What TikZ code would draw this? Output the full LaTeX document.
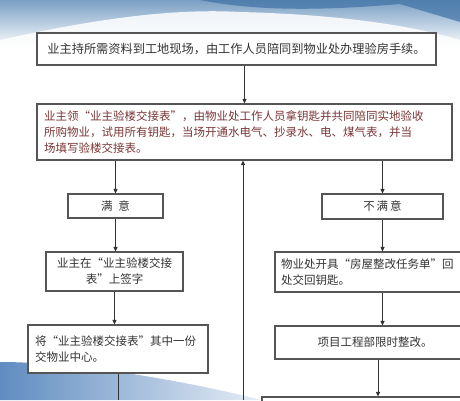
\documentclass[tikz,border=0pt]{standalone}
\usepackage{fontspec}
\setmainfont{Noto Sans CJK SC}
\usetikzlibrary{arrows.meta, positioning, calc}

\definecolor{sky}{HTML}{7A9FC4}
\definecolor{skydark}{HTML}{3F72A6}
\definecolor{swoosh}{HTML}{5F8CC0}
\definecolor{boxline}{HTML}{555555}
\definecolor{redtext}{HTML}{7A3636}
\definecolor{ink}{HTML}{333333}

\begin{document}
\begin{tikzpicture}[
  x=1pt, y=-1pt,
  box/.style={draw=boxline, line width=1.1pt, fill=white, text=ink,
              inner sep=0pt, font=\fontsize{11.5}{16}\selectfont},
  flow/.style={draw=ink, line width=0.9pt,
               -{Triangle[length=4.5pt, width=4pt]}}
]
  \useasboundingbox (0,0) rectangle (460,400);
  \clip (0,0) rectangle (460,400);

  % Sky at the top
  \shade[top color=sky, bottom color=white] (0,0) rectangle (460,48);
  \fill[skydark, opacity=0.7] (200,0) .. controls (260,12) and (330,10) .. (400,4)
    -- (460,22) -- (460,0) -- cycle;
  \fill[white, opacity=0.85] (0,40) .. controls (90,20) and (170,8) .. (240,12)
    .. controls (320,14) and (400,22) .. (460,40) -- (460,60) -- (0,60) -- cycle;

  % Swoosh at the bottom left
  \shade[left color=swoosh, right color=swoosh!15] (0,362)
    .. controls (80,362) and (190,382) .. (262,400) -- (0,400) -- cycle;

  % Boxes
  \node[box, font=\fontsize{12.2}{16}\selectfont, minimum width=399pt,
        minimum height=32pt] (start) at (236.5,49)
    {业主持所需资料到工地现场，由工作人员陪同到物业处办理验房手续。};
  \node[box, text=redtext, text width=401pt, align=left, inner xsep=7pt,
        minimum height=56pt] (check) at (244.5,132)
    {业主领“业主验楼交接表”，由物业处工作人员拿钥匙并共同陪同实地验收\\
     所购物业，试用所有钥匙，当场开通水电气、抄录水、电、煤气表，并当\\
     场填写验楼交接表。};
  \node[box, minimum width=95pt, minimum height=24pt] (ok) at (115.5,206)
    {满\enspace 意};
  \node[box, minimum width=121pt, minimum height=25pt] (notok) at (382.5,206.5)
    {不\,满\,意};
  \node[box, minimum width=137pt, minimum height=39pt, align=center] (sign)
    at (114.5,271.5) {业主在“业主验楼交接\\表”上签字};
  \node[box, text width=188pt, align=left, inner xsep=6pt,
        minimum height=40pt] (notice) at (375,272)
    {物业处开具“房屋整改任务单”回\\处交回钥匙。};
  \node[box, text width=166pt, align=left, inner xsep=7pt,
        minimum height=48pt] (handover) at (118,349)
    {将“业主验楼交接表”其中一份\\交物业中心。};
  \node[box, minimum width=200pt, minimum height=33pt] (rectify) at (375,342.5)
    {项目工程部限时整改。};
  \node[box, minimum width=220pt, minimum height=30pt] (next) at (372,412) {};

  % Free ends at the bottom edge
  \coordinate (back) at (243,400);
  \coordinate (down) at (118,400);

  % Connectors
  \draw[flow] (start.south -| check) -- (check.north);
  \draw[flow] (check.south -| ok) -- (ok.north);
  \draw[flow] (check.south -| notok) -- (notok.north);
  \draw[flow] (ok.south) -- (ok.south |- sign.north);
  \draw[flow] (sign.south) -- (sign.south |- handover.north);
  \draw[flow] (notok.south) -- (notok.south |- notice.north);
  \draw[flow] (notok.south |- notice.south) -- (notok.south |- rectify.north);
  \draw[flow] ($(rectify.south)+(3,0)$) -- ($(rectify.south |- next.north)+(3,0)$);
  \draw[flow] (back) -- (back |- check.south);
  \draw[draw=ink, line width=0.9pt] (handover.south) -- (down);
\end{tikzpicture}
\end{document}
